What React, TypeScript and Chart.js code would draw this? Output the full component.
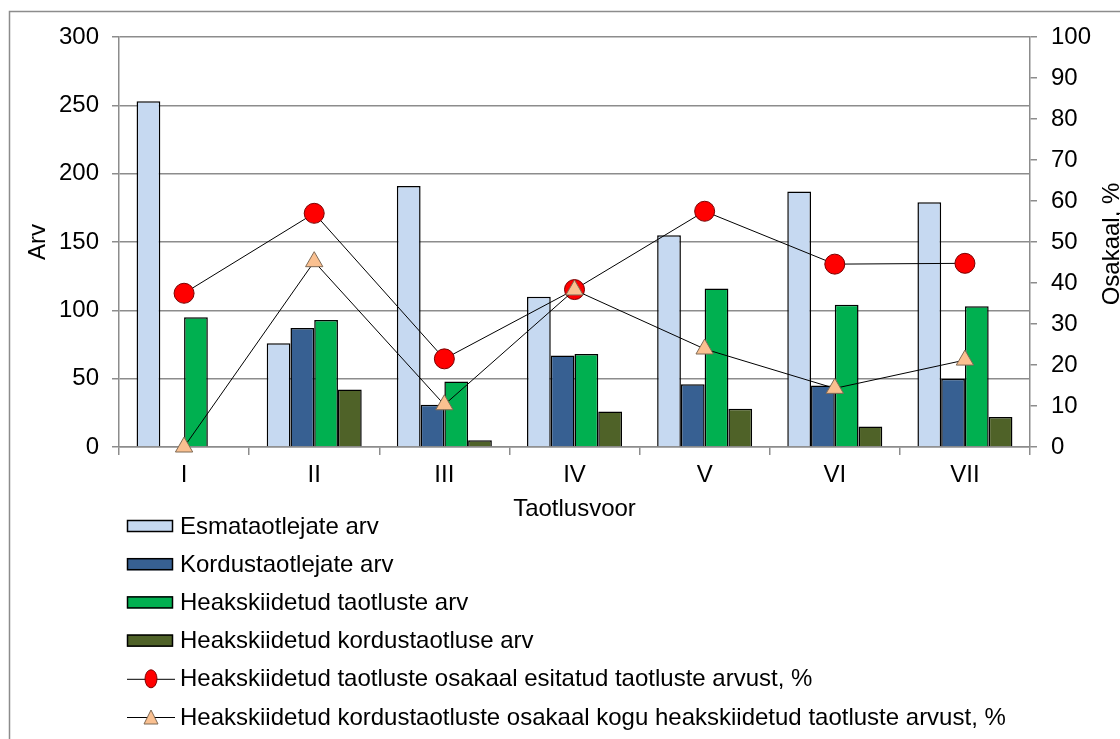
import React, { useEffect, useRef } from "react";
import { Chart, registerables } from "chart.js";

Chart.register(...registerables);

const categories = ["I", "II", "III", "IV", "V", "VI", "VII"];
const esmataotlejad = [253, 76, 191, 110, 155, 187, 179];
const kordustaotlejad = [0, 87, 31, 67, 46, 45, 50];
const heakskiidetud = [95, 93, 48, 68, 116, 104, 103];
const heakKordus = [0, 42, 5, 26, 28, 15, 22];
const osakaalEsitatud = [37.5, 57, 21.5, 38.4, 57.5, 44.6, 44.8];
const osakaalKordus = [0, 45.2, 10.3, 38.3, 23.9, 14.3, 21.2];

const seriesLabels = [
  "Esmataotlejate arv",
  "Kordustaotlejate arv",
  "Heakskiidetud taotluste arv",
  "Heakskiidetud kordustaotluse arv",
  "Heakskiidetud taotluste osakaal esitatud taotluste arvust, %",
  "Heakskiidetud kordustaotluste osakaal kogu heakskiidetud taotluste arvust, %",
];
const leftTicksMax = 300;
const rightTicksMax = 100;

const FONT = "'Liberation Sans', Arial, sans-serif";
const GRAY = "#8c8c8c";
const FS = 24;

const decorPlugin = {
  id: "decor",
  beforeDraw(chart: any) {
    const ctx = chart.ctx;
    ctx.save();
    ctx.fillStyle = "#fff";
    ctx.fillRect(0, 0, chart.width, chart.height);
    ctx.strokeStyle = GRAY;
    ctx.lineWidth = 1.5;
    ctx.strokeRect(9.5, 11.5, chart.width + 20, chart.height + 20);
    ctx.restore();
  },
  afterDraw(chart: any) {
    const ctx = chart.ctx;
    const area = chart.chartArea;
    ctx.save();
    ctx.fillStyle = "#000";
    ctx.font = `${FS}px ${FONT}`;
    ctx.textAlign = "center";
    ctx.textBaseline = "middle";
    const midY = (area.top + area.bottom) / 2;
    // Left title
    ctx.save();
    ctx.translate(38, midY);
    ctx.rotate(-Math.PI / 2);
    ctx.fillText("Arv", 0, 0);
    ctx.restore();
    // Right title
    ctx.save();
    ctx.translate(1112, midY + 2);
    ctx.rotate(-Math.PI / 2);
    ctx.fillText("Osakaal, %", 0, 0);
    ctx.restore();
    // X title
    ctx.fillText("Taotlusvoor", (area.left + area.right) / 2, 509);

    // Legend
    const ds = chart.data.datasets;
    const startY = 526;
    const step = 38.2;
    ctx.textAlign = "left";
    ds.forEach((d: any, i: number) => {
      const y = startY + i * step;
      if (d.type === "line") {
        ctx.strokeStyle = "#000";
        ctx.lineWidth = 1;
        ctx.beginPath();
        ctx.moveTo(127, y + 0.5);
        ctx.lineTo(175, y + 0.5);
        ctx.stroke();
        ctx.fillStyle = d.pointBackgroundColor;
        ctx.strokeStyle = d.pointBorderColor;
        ctx.lineWidth = 1;
        ctx.beginPath();
        if (d.pointStyle === "triangle") {
          ctx.moveTo(151, y - 7);
          ctx.lineTo(158, y + 7);
          ctx.lineTo(144, y + 7);
          ctx.closePath();
        } else {
          ctx.ellipse(151, y, 6, 9, 0, 0, Math.PI * 2);
        }
        ctx.fill();
        ctx.stroke();
      } else {
        ctx.fillStyle = d.backgroundColor;
        ctx.fillRect(127, y - 6, 46, 12);
        ctx.strokeStyle = "#000";
        ctx.lineWidth = 1.5;
        ctx.strokeRect(127.5, y - 5.5, 45, 11);
      }
      ctx.fillStyle = "#000";
      ctx.fillText(d.label, 180, y + 1);
    });
    ctx.restore();
  },
};

export default function App() {
  const ref = useRef<HTMLCanvasElement>(null);
  useEffect(() => {
    document.body.style.margin = "0";
    const canvas = ref.current!;
    const barBase = {
      type: "bar" as const,
      yAxisID: "y",
      borderColor: "#000",
      borderWidth: 1.5,
      borderSkipped: "start",
      order: 2,
      categoryPercentage: 0.73,
      barPercentage: 1,
    };
    const chart = new Chart(canvas, {
      type: "bar",
      data: {
        labels: categories,
        datasets: [
          { ...barBase, label: seriesLabels[0], data: esmataotlejad, backgroundColor: "#C6D9F1" },
          { ...barBase, label: seriesLabels[1], data: kordustaotlejad, backgroundColor: "#376092" },
          { ...barBase, label: seriesLabels[2], data: heakskiidetud, backgroundColor: "#00B050" },
          { ...barBase, label: seriesLabels[3], data: heakKordus, backgroundColor: "#4F6228" },
          {
            type: "line",
            label: seriesLabels[4],
            data: osakaalEsitatud,
            yAxisID: "y1",
            borderColor: "#000",
            borderWidth: 1,
            pointStyle: "circle",
            pointRadius: 10,
            pointBackgroundColor: "#FF0000",
            pointBorderColor: "#7a0000",
            pointBorderWidth: 1,
            order: 1,
            clip: false,
          } as any,
          {
            type: "line",
            label: seriesLabels[5],
            data: osakaalKordus,
            yAxisID: "y1",
            borderColor: "#000",
            borderWidth: 1,
            pointStyle: "triangle",
            pointRadius: 10,
            pointBackgroundColor: "#FAC090",
            pointBorderColor: "#7f6a55",
            pointBorderWidth: 1,
            order: 0,
            clip: false,
          } as any,
        ],
      },
      options: {
        responsive: false,
        animation: false,
        devicePixelRatio: 1,
        layout: { padding: { left: 0, right: 0, top: 37, bottom: 222 } },
        plugins: {
          legend: { display: false },
          tooltip: { enabled: false },
        },
        scales: {
          x: {
            grid: {
              offset: true,
              drawOnChartArea: false,
              drawTicks: true,
              tickLength: 8,
              color: GRAY,
              lineWidth: 1.5,
            },
            border: { color: GRAY, width: 1.5 },
            ticks: { color: "#000", font: { family: FONT, size: FS }, padding: 6 },
            afterFit: (s: any) => {
              s.height = 70;
            },
          },
          y: {
            position: "left",
            min: 0,
            max: leftTicksMax,
            ticks: {
              stepSize: 50,
              color: "#000",
              font: { family: FONT, size: FS },
              padding: 13,
            },
            grid: { color: GRAY, lineWidth: 1.5, tickLength: 7 },
            border: { color: GRAY, width: 1.5 },
            afterFit: (s: any) => {
              s.width = 119;
            },
          },
          y1: {
            position: "right",
            min: 0,
            max: rightTicksMax,
            ticks: {
              stepSize: 10,
              color: "#000",
              font: { family: FONT, size: FS },
              padding: 14,
            },
            grid: { drawOnChartArea: false, color: GRAY, lineWidth: 1.5, tickLength: 7 },
            border: { color: GRAY, width: 1.5 },
            afterFit: (s: any) => {
              s.width = 90;
            },
          },
        },
      } as any,
      plugins: [decorPlugin],
    });
    return () => chart.destroy();
  }, []);
  return <canvas ref={ref} width={1120} height={739} style={{ display: "block" }} />;
}
